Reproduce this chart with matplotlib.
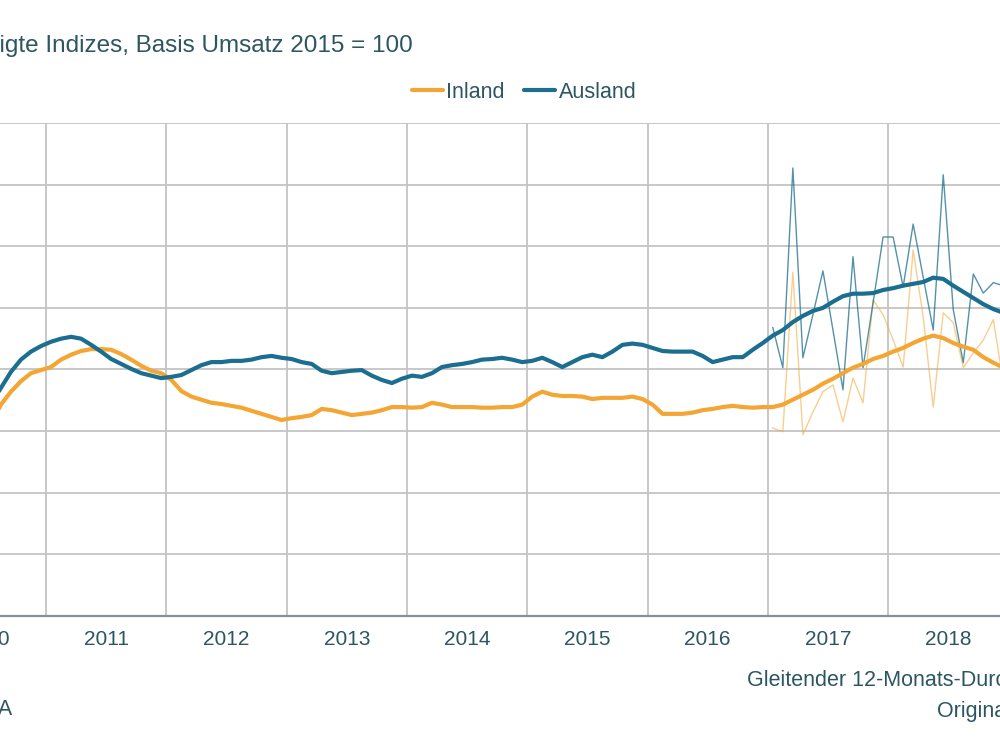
import numpy as np
import pandas as pd
import matplotlib.pyplot as plt

# ---------------------------------------------
# Daten (Index, Basis Umsatz 2015 = 100)
months = pd.date_range("2010-07-01", "2018-12-01", freq="MS")
orig_months = pd.date_range("2017-01-01", "2018-12-01", freq="MS")

# gleitender 12-Monats-Durchschnitt
ausland_avg = [
    34.3, 37.0, 39.6, 41.6, 42.9, 43.8,
    44.5, 45.0, 45.3, 45.0, 44.0, 42.9, 41.7, 40.9, 40.1, 39.4, 39.0, 38.6,
    38.8, 39.1, 39.9, 40.7, 41.2, 41.2, 41.4, 41.4, 41.6, 42.0, 42.2, 41.9,
    41.7, 41.2, 40.9, 39.8, 39.4, 39.6, 39.8, 39.9, 39.0, 38.3, 37.8, 38.5,
    39.0, 38.8, 39.4, 40.4, 40.7, 40.9, 41.2, 41.6, 41.7, 41.9, 41.6, 41.2,
    41.4, 41.9, 41.2, 40.4, 41.2, 42.0, 42.4, 42.0, 42.9, 44.0, 44.2, 44.0,
    43.5, 43.0, 42.9, 42.9, 42.9, 42.2, 41.2, 41.6, 42.0, 42.0, 43.2, 44.3,
    45.5, 46.4, 47.7, 48.7, 49.5, 50.0, 51.0, 51.9, 52.3, 52.3, 52.4, 52.9,
    53.2, 53.6, 53.9, 54.2, 54.9, 54.7, 53.6, 52.6, 51.6, 50.6, 49.8, 49.2,
]
inland_avg = [
    31.0, 34.3, 36.4, 38.1, 39.4, 39.9,
    40.4, 41.6, 42.4, 43.0, 43.3, 43.3, 43.2, 42.5, 41.6, 40.6, 39.8, 39.4,
    38.3, 36.5, 35.6, 35.1, 34.6, 34.4, 34.1, 33.8, 33.3, 32.8, 32.3, 31.8,
    32.1, 32.3, 32.6, 33.6, 33.4, 33.0, 32.6, 32.8, 33.0, 33.4, 33.9, 33.9,
    33.8, 33.9, 34.6, 34.3, 33.9, 33.9, 33.9, 33.8, 33.8, 33.9, 33.9, 34.3,
    35.6, 36.4, 35.9, 35.7, 35.7, 35.6, 35.2, 35.4, 35.4, 35.4, 35.6, 35.2,
    34.3, 32.8, 32.8, 32.8, 33.0, 33.4, 33.6, 33.9, 34.1, 33.9, 33.8, 33.9,
    33.9, 34.3, 35.1, 35.9, 36.7, 37.7, 38.5, 39.4, 40.3, 40.9, 41.7, 42.2,
    42.9, 43.5, 44.3, 45.0, 45.5, 45.1, 44.3, 43.7, 43.2, 42.0, 41.1, 40.3,
]

# Originalwerte
ausland_orig = [
    46.8, 40.3, 72.7, 41.9, 48.9, 56.0, 46.4, 36.7, 58.3, 40.3, 50.8, 61.5,
    61.5, 53.4, 63.6, 55.0, 46.4, 71.6, 49.7, 41.1, 55.5, 52.4, 54.1, 53.6,
]
inland_orig = [
    30.5, 29.9, 55.8, 29.4, 33.1, 36.4, 37.5, 31.5, 38.6, 34.6, 51.3, 48.9,
    44.8, 40.4, 59.4, 48.5, 33.9, 49.2, 47.6, 40.3, 42.7, 44.8, 48.1, 37.8,
]

years = list(range(2010, 2020))


def to_year(idx):
    return idx.year + (idx.month - 1) / 12 + 1 / 24


x_avg = to_year(months)
x_orig = to_year(orig_months)

c_in = "#F4A634"
c_aus = "#1B6E8F"
c_txt = "#2D5663"

plt.rcParams["font.family"] = ["Liberation Sans", "DejaVu Sans"]

fig = plt.figure(figsize=(10, 7.5), dpi=100)
# Ausschnitt: Achse ragt links und rechts ueber das Bild hinaus
ax = fig.add_axes([-0.0743, 0.1787, 1.203, 0.6573])

ax.plot(x_orig, inland_orig, color=c_in, lw=1.0, alpha=0.55)
ax.plot(x_orig, ausland_orig, color=c_aus, lw=1.0, alpha=0.75)
l_in, = ax.plot(x_avg, inland_avg, color=c_in, lw=3.0, solid_capstyle="round")
l_aus, = ax.plot(x_avg, ausland_avg, color=c_aus, lw=3.0, solid_capstyle="round")

ax.set_xlim(2010, 2020)
ax.set_ylim(0, 80)
ax.set_yticks(np.arange(0, 81, 10))
ax.set_xticks(years)
ax.set_xticks([y + 0.5 for y in years], minor=True)
ax.set_xticklabels([])
ax.set_xticklabels([str(y) for y in years], minor=True)
ax.tick_params(axis="both", which="both", length=0)
ax.tick_params(axis="x", which="minor", labelsize=15, labelcolor=c_txt, pad=10)
ax.tick_params(axis="y", labelleft=False)
ax.grid(True, which="major", color="#c4c4c4", lw=1.3)
ax.set_axisbelow(True)
for s in ["left", "right", "top"]:
    ax.spines[s].set_visible(False)
ax.spines["bottom"].set_color("#7f9399")
ax.spines["bottom"].set_linewidth(1.6)

fig.text(0.413, 1 - 46 / 750, "Preisbereinigte Indizes, Basis Umsatz 2015 = 100",
         ha="right", va="center", fontsize=17.5, color=c_txt)

fig.legend([l_in, l_aus], ["Inland", "Ausland"], loc="center",
           bbox_to_anchor=(0.524, 1 - 92 / 750), ncol=2, frameon=False,
           fontsize=15.5, handlelength=1.45, handletextpad=0.15,
           columnspacing=0.9, borderpad=0, labelcolor=c_txt)

fig.text(0.747, 1 - 680 / 750, "Gleitender 12-Monats-Durchschnitt",
         ha="left", va="center", fontsize=15.5, color=c_txt)
fig.text(0.937, 1 - 712 / 750, "Originalwerte",
         ha="left", va="center", fontsize=15.5, color=c_txt)
fig.text(0.012, 1 - 710 / 750, "Quelle: VDMA",
         ha="right", va="center", fontsize=15.5, color=c_txt)

fig.savefig("out.png", dpi=100, facecolor="white")
